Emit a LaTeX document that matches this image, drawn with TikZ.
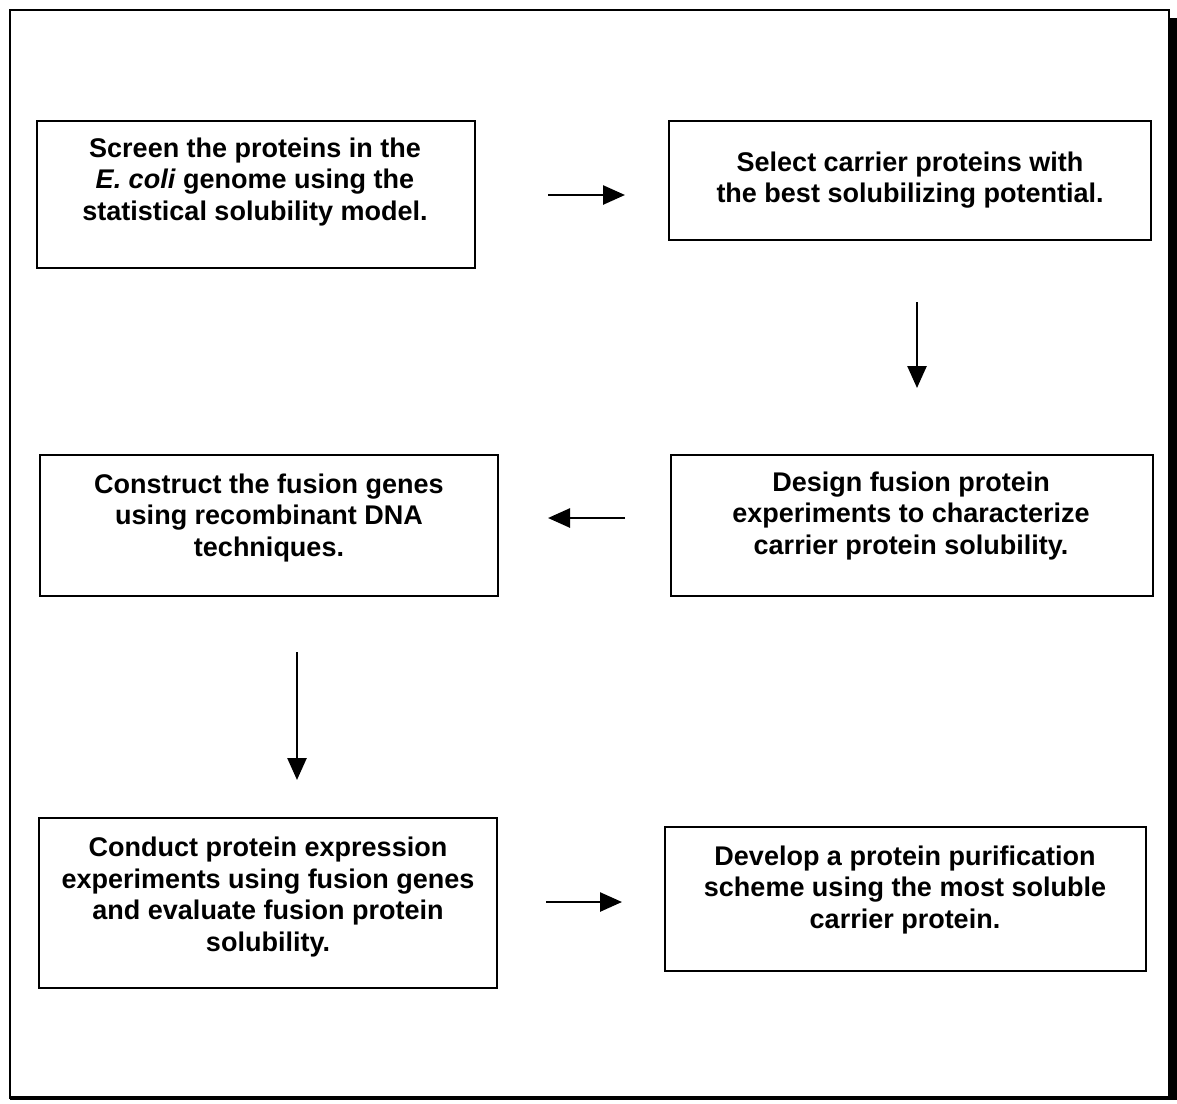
\documentclass[tikz,border=0pt]{standalone}
\usepackage{fontspec}
\setmainfont{Liberation Sans}
\usetikzlibrary{arrows.meta}
\begin{document}
\begin{tikzpicture}[x=1pt,y=-1pt,
  boxstyle/.style={draw,line width=1.8pt,inner sep=0pt},
  txt/.style={align=center,inner sep=0pt,font=\fontsize{27}{31.5}\selectfont\bfseries},
  flow/.style={line width=2.6pt,-{Triangle[length=22pt,width=19pt]}}]
\useasboundingbox (0,0) rectangle (1177,1103);
% frame
\draw[line width=1.6pt] (10,10) rectangle (1169,1098);
\fill (1168,18) rectangle (1177,1100);
\fill (10,1096) rectangle (1177,1100);
% boxes
\node[boxstyle,minimum width=438pt,minimum height=147pt] (b1) at (256,194.5) {};
\node[boxstyle,minimum width=482pt,minimum height=119pt] (b2) at (910,180.5) {};
\node[boxstyle,minimum width=482pt,minimum height=141pt] (b3) at (912,525.5) {};
\node[boxstyle,minimum width=458pt,minimum height=141pt] (b4) at (269,525.5) {};
\node[boxstyle,minimum width=458pt,minimum height=170pt] (b5) at (268,903) {};
\node[boxstyle,minimum width=481pt,minimum height=144pt] (b6) at (905.5,899) {};
% texts
\node[txt] (t1) at (255,182) {Screen the proteins in the\\\textit{E. coli} genome using the\\statistical solubility model.};
\node[txt] (t2) at (910,180) {Select carrier proteins with\\the best solubilizing potential.};
\node[txt] (t3) at (911,516) {Design fusion protein\\experiments to characterize\\carrier protein solubility.};
\node[txt] (t4) at (269,518) {Construct the fusion genes\\using recombinant DNA\\techniques.};
\node[txt] (t5) at (268,897) {Conduct protein expression\\experiments using fusion genes\\and evaluate fusion protein\\solubility.};
\node[txt] (t6) at (905,890) {Develop a protein purification\\scheme using the most soluble\\carrier protein.};
% arrow ends
\coordinate (a1s) at (548,195); \coordinate (a1e) at (625,195);
\coordinate (a2s) at (917,302); \coordinate (a2e) at (917,388);
\coordinate (a3s) at (625,518); \coordinate (a3e) at (548,518);
\coordinate (a4s) at (297,652); \coordinate (a4e) at (297,780);
\coordinate (a5s) at (546,902); \coordinate (a5e) at (622,902);
\draw[flow] (a1s) -- (a1e);
\draw[flow] (a2s) -- (a2e);
\draw[flow] (a3s) -- (a3e);
\draw[flow] (a4s) -- (a4e);
\draw[flow] (a5s) -- (a5e);
\end{tikzpicture}
\end{document}
